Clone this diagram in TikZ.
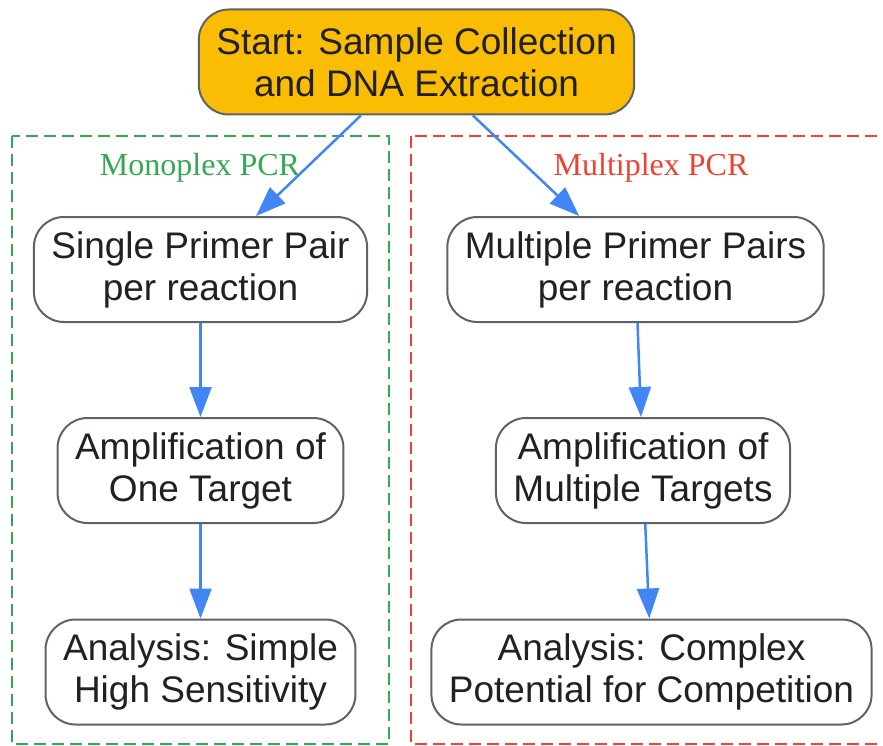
\documentclass[tikz,border=0pt]{standalone}
\usepackage{fontspec}
\setmainfont{Liberation Sans}
\newfontfamily\titlefont{Liberation Serif}
\usetikzlibrary{arrows.meta}
\definecolor{gblue}{HTML}{4285F4}
\definecolor{ggreen}{HTML}{34A853}
\definecolor{gred}{HTML}{EA4335}
\definecolor{gyellow}{HTML}{FBBC04}
\definecolor{ggray}{HTML}{5F6368}
\definecolor{gtext}{HTML}{202124}
\begin{document}
\begin{tikzpicture}[x=1pt, y=-1pt, >={Triangle[length=30pt,width=22pt]},
  box/.style={draw=ggray, line width=2pt, rounded corners=30pt, fill=white, align=center,
    text=gtext, font=\fontsize{37}{42}\selectfont, inner xsep=17.5pt, minimum height=105pt,
    execute at begin node={\rule{0pt}{34pt}}},
  flow/.style={->, draw=gblue, fill=gblue, line width=2.5pt},
  cluster/.style={line width=2pt, dash pattern=on 12pt off 6pt},
  ctitle/.style={font=\titlefont\fontsize{32}{36}\selectfont}]
\useasboundingbox (0,0) rectangle (883,746);

% the two groups
\begin{scope}
\clip (0,0) rectangle (883,746);
\draw[cluster, ggreen](12,136) rectangle (389,744);
\draw[cluster, gred](411,136) rectangle (891,744);
\end{scope}
\node[ctitle, text=ggreen] (monotitle) at (200,168) {Monoplex PCR};
\node[ctitle, text=gred] (multititle) at (651,168) {Multiplex PCR};

\node[box, fill=gyellow] (start) at (416.5,62) {Start: Sample Collection\\and DNA Extraction};

\node[box] (single) at (200.5,269.5) {Single Primer Pair\\per reaction};
\node[box] (ampone) at (200.5,470.5) {Amplification of\\One Target};
\node[box] (simple) at (200.5,672) {Analysis: Simple\\High Sensitivity};

\node[box] (multiple) at (635.5,269.5) {Multiple Primer Pairs\\per reaction};
\node[box] (ampmulti) at (643,470.5) {Amplification of\\Multiple Targets};
\node[box] (complex) at (651.5,672) {Analysis: Complex\\Potential for Competition};

\foreach \a/\b in {start/single, single/ampone, ampone/simple,
                   start/multiple, multiple/ampmulti, ampmulti/complex}
{
    \draw[flow](\a)--(\b);
}
\end{tikzpicture}
\end{document}
